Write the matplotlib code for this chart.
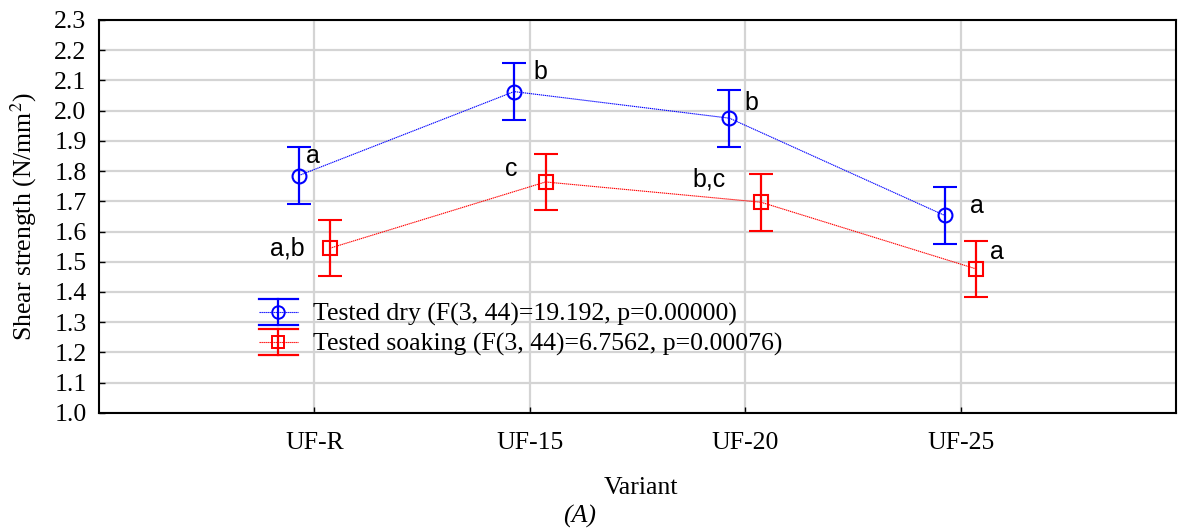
import numpy as np
import matplotlib
matplotlib.use("Agg")
import matplotlib.pyplot as plt
from matplotlib.legend_handler import HandlerBase
from matplotlib.lines import Line2D
from matplotlib.container import ErrorbarContainer

plt.rcParams["mathtext.fontset"] = "stix"

variants = ["UF-R", "UF-15", "UF-20", "UF-25"]

dry_mean = [1.785, 2.063, 1.975, 1.653]
dry_err = [0.094, 0.094, 0.094, 0.094]
dry_letters = ["a", "b", "b", "a"]

soak_mean = [1.545, 1.764, 1.697, 1.476]
soak_err = [0.093, 0.092, 0.094, 0.093]
soak_letters = ["a,b", "c", "b,c", "a"]

dry_label = "Tested dry (F(3, 44)=19.192, p=0.00000)"
soak_label = "Tested soaking (F(3, 44)=6.7562, p=0.00076)"

# letter offsets from each marker, in points
dry_off = [(10, 14), (19, 14), (16, 11), (23, 7)]
soak_off = [(-31, 0), (-25, 9), (-37, 16), (15, 12)]

SERIF = "Liberation Serif"
SANS = "Liberation Sans"


class ErrHandle(HandlerBase):
    # legend key like the STATISTICA one: caps over the whole key width
    def create_artists(self, legend, orig, xd, yd, width, height, fontsize, trans):
        line = orig.lines[0]
        c = line.get_color()
        cy = height / 2 - yd
        half = height * 0.62
        arts = [
            Line2D([-xd, width - xd], [cy, cy], color=c, lw=0.8, ls=(0, (1.2, 0.6))),
            Line2D([-xd + width / 2] * 2, [cy - half, cy + half], color=c, lw=1.6),
            Line2D([-xd, width - xd], [cy + half] * 2, color=c, lw=1.6),
            Line2D([-xd, width - xd], [cy - half] * 2, color=c, lw=1.6),
            Line2D([-xd + width / 2], [cy], color=c, marker=line.get_marker(),
                   markersize=line.get_markersize() * 0.9, markerfacecolor="none",
                   markeredgewidth=1.4, ls="none"),
        ]
        for a in arts:
            a.set_transform(trans)
        return arts


fig = plt.figure(figsize=(11.8, 5.3), dpi=100)
ax = fig.add_axes([0.0839, 0.2211, 0.9127, 0.7412])

x = np.arange(1, len(variants) + 1)
shift = 0.073

dot = (0, (1.2, 0.6))
h1 = ax.errorbar(x - shift, dry_mean, yerr=dry_err, color="blue", ecolor="blue",
                 linestyle=dot, linewidth=0.8, elinewidth=1.6, capsize=8.5, capthick=1.6,
                 marker="o", markersize=10, markerfacecolor="none", markeredgewidth=1.5,
                 label=dry_label, zorder=3)
h2 = ax.errorbar(x + shift, soak_mean, yerr=soak_err, color="red", ecolor="red",
                 linestyle=dot, linewidth=0.8, elinewidth=1.6, capsize=8.5, capthick=1.6,
                 marker="s", markersize=9.5, markerfacecolor="none", markeredgewidth=1.5,
                 label=soak_label, zorder=3)

for xi, yi, lab, off in zip(x - shift, dry_mean, dry_letters, dry_off):
    ax.annotate(lab, (xi, yi), xytext=off, textcoords="offset points",
                ha="center", va="center", fontsize=18, family=SANS)
for xi, yi, lab, off in zip(x + shift, soak_mean, soak_letters, soak_off):
    ax.annotate(lab, (xi, yi), xytext=off, textcoords="offset points",
                ha="center", va="center", fontsize=18, family=SANS)

ax.set_xlim(0, 5)
ax.set_ylim(1.0, 2.3)
ax.set_xticks(x)
ax.set_xticklabels(variants)
yt = np.arange(1.0, 2.31, 0.1)
ax.set_yticks(yt)
ax.set_yticklabels([f"{v:.1f}" for v in yt])

ax.grid(True, color="#d4d4d4", linewidth=1.6, zorder=0)
ax.set_axisbelow(True)
for s in ax.spines.values():
    s.set_linewidth(1.5)
ax.tick_params(axis="both", direction="in", length=4, width=1, labelsize=18.5)
ax.tick_params(axis="x", pad=14)
ax.tick_params(axis="y", pad=9)
for t in ax.get_xticklabels() + ax.get_yticklabels():
    t.set_family(SERIF)

ax.set_ylabel("Shear strength (N/mm$^2$)", fontsize=18.5, family=SERIF, labelpad=11)
fig.text(0.543, 0.079, "Variant", ha="center", va="center", fontsize=18.5, family=SERIF)
fig.text(0.4915, 0.025, "(A)", ha="center", va="center", fontsize=18.5, family=SERIF, style="italic")

leg = ax.legend(handles=[h1, h2], loc="upper left", bbox_to_anchor=(0.132, 0.33),
                frameon=False, prop={"family": SERIF, "size": 18.5},
                handler_map={ErrorbarContainer: ErrHandle()},
                handlelength=1.5, handleheight=0.9, handletextpad=0.6,
                labelspacing=0.2, borderpad=0.2)

fig.savefig("out.png", dpi=100)
